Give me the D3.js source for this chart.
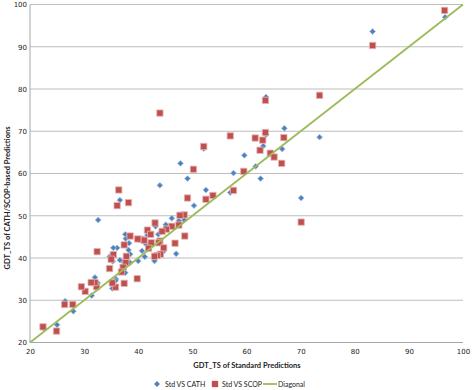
<!DOCTYPE html>
<html>
<head>
<meta charset="utf-8">
<script src="https://cdn.jsdelivr.net/npm/d3@7"></script>
<style>
  body { margin: 0; background: #fff; }
  svg { display: block; }
</style>
</head>
<body>
<svg id="chart" width="472" height="390"></svg>
<script>
// GDT_TS of standard predictions (x) vs CATH/SCOP-based predictions (y)
const cathX = [96.7, 83.3, 73.5, 70.1, 67.0, 66.6, 63.6, 63.6, 63.1, 62.6, 61.7, 59.6, 57.6, 57.0, 52.5,
  52.1, 50.3, 49.1, 47.8, 48.5, 47.5, 46.2, 47.0, 45.1, 44.0, 44.6, 43.7, 43.2, 43.0, 41.7,
  41.4, 41.2, 40.7, 40.0, 38.5, 38.5, 38.3, 38.2, 37.7, 37.6, 37.6, 37.2, 36.6, 36.6, 36.1,
  35.4, 35.9, 35.3, 34.7, 35.8, 35.2, 32.6, 32.5, 32.0, 31.4, 28.0, 26.5, 25.0, 22.6];
const cathY = [97.0, 93.6, 68.6, 54.2, 70.7, 65.8, 78.1, 69.2, 66.5, 58.8, 61.7, 64.3, 60.1, 55.5, 56.1,
  65.9, 52.4, 58.8, 62.4, 49.0, 48.8, 49.4, 41.0, 47.9, 57.2, 41.5, 45.6, 47.5, 39.3, 45.4,
  43.3, 40.3, 41.7, 39.3, 40.9, 38.9, 43.5, 41.9, 44.6, 45.6, 36.5, 39.2, 39.5, 53.7, 42.4,
  42.4, 35.0, 39.2, 40.3, 34.6, 32.8, 49.0, 34.1, 35.4, 31.1, 27.4, 29.8, 24.2, 23.3];

const scopX = [96.6, 83.3, 73.5, 70.1, 63.5, 63.5, 61.6, 63.0, 66.9, 62.5, 64.4, 65.1, 66.5, 59.5, 57.0,
  57.6, 53.8, 52.5, 52.1, 50.2, 49.1, 48.5, 47.7, 47.5, 46.2, 48.6, 46.8, 45.2, 44.4, 43.1,
  44.0, 41.7, 42.3, 44.0, 43.8, 42.4, 44.7, 44.1, 43.5, 43.0, 41.9, 40.6, 41.1, 39.9, 38.5,
  37.4, 37.8, 37.7, 37.2, 36.9, 36.4, 36.1, 38.2, 35.4, 35.0, 34.7, 39.8, 37.4, 35.8, 35.2,
  32.4, 32.3, 32.0, 31.3, 30.2, 29.5, 27.9, 26.4, 24.9, 22.4];
const scopY = [98.6, 90.3, 78.5, 48.5, 77.3, 69.7, 68.4, 67.9, 68.5, 65.5, 64.8, 63.9, 62.4, 60.5, 68.9,
  56.0, 54.8, 53.9, 66.4, 61.0, 54.2, 50.2, 50.1, 47.8, 47.5, 45.2, 43.5, 46.8, 46.3, 48.3,
  74.3, 46.6, 45.6, 44.0, 43.6, 43.6, 42.4, 40.9, 40.6, 40.4, 42.3, 44.4, 44.2, 44.5, 45.2,
  43.1, 40.4, 38.9, 37.8, 36.7, 56.1, 52.4, 53.1, 40.8, 39.7, 37.5, 35.1, 34.0, 33.1, 34.1,
  41.5, 33.2, 34.2, 34.2, 32.1, 33.2, 29.0, 29.0, 22.7, 23.7];

const diagonal = [20, 100];
const axisTicks = [20, 30, 40, 50, 60, 70, 80, 90, 100];
const seriesNames = ["Std VS CATH", "Std VS SCOP", "Diagonal"];

const svg = d3.select("#chart");
const x = d3.scaleLinear().domain([20, 100]).range([30, 463]);
const y = d3.scaleLinear().domain([20, 100]).range([342.5, 4.5]);

const blue = "#4f81bd", red = "#c0504d", green = "#9bbb59";
const diamond = d3.symbol().type(d3.symbolDiamond2).size(22);
const square = d3.symbol().type(d3.symbolSquare).size(40);

// gridlines
svg.append("g")
  .selectAll("line")
  .data(axisTicks.slice(1))
  .enter().append("line")
  .attr("x1", x(20)).attr("x2", x(100))
  .attr("y1", d => y(d)).attr("y2", d => y(d))
  .style("stroke", "#bdbdbd")
  .style("stroke-width", 1);

// axis lines
svg.append("line")
  .attr("x1", x(20)).attr("x2", x(20)).attr("y1", y(100)).attr("y2", y(20))
  .style("stroke", "#a6a6a6");
svg.append("line")
  .attr("x1", x(20)).attr("x2", x(100)).attr("y1", y(20)).attr("y2", y(20))
  .style("stroke", "#a6a6a6");

const yAxis = d3.axisLeft(y).tickValues(axisTicks).tickSize(0).tickPadding(3);
const xAxis = d3.axisBottom(x).tickValues(axisTicks).tickSize(0).tickPadding(7);

svg.append("g").attr("transform", `translate(${x(20)},0)`).call(yAxis)
  .call(g => g.select(".domain").remove())
  .selectAll("text").style("font-family", "DejaVu Sans").style("font-size", "7px").attr("fill", "#222");
svg.append("g").attr("transform", `translate(0,${y(20)})`).call(xAxis)
  .call(g => g.select(".domain").remove())
  .selectAll("text").style("font-family", "DejaVu Sans").style("font-size", "7px").attr("fill", "#222");

// titles
svg.append("text")
  .attr("x", 247).attr("y", 368)
  .attr("text-anchor", "middle")
  .style("font-family", "Lato").style("font-weight", "bold").style("font-size", "7.5px")
  .attr("fill", "#222")
  .text("GDT_TS  of Standard  Predictions");
svg.append("text")
  .attr("transform", "translate(10,198) rotate(-90)")
  .attr("text-anchor", "middle")
  .style("font-family", "Lato").style("font-weight", "bold").style("font-size", "7.5px")
  .attr("fill", "#222")
  .text("GDT_TS  of CATH/SCOP-based  Predictions");

// series
const cathData = cathX.map((v, i) => [v, cathY[i]]);
const scopData = scopX.map((v, i) => [v, scopY[i]]);

svg.append("g").selectAll("path")
  .data(cathData)
  .enter().append("path")
  .attr("transform", d => `translate(${x(d[0])},${y(d[1])})`)
  .attr("d", diamond)
  .style("fill", blue)
  .style("stroke", "#a9c2e2")
  .style("stroke-width", 0.8);

svg.append("g").selectAll("path")
  .data(scopData)
  .enter().append("path")
  .attr("transform", d => `translate(${x(d[0])},${y(d[1])})`)
  .attr("d", square)
  .style("fill", red)
  .style("stroke", "#e3b5b4")
  .style("stroke-width", 0.8);

svg.append("line")
  .attr("x1", x(diagonal[0])).attr("y1", y(diagonal[0]))
  .attr("x2", x(diagonal[1])).attr("y2", y(diagonal[1]))
  .style("stroke", green)
  .style("stroke-width", 1.8);

// legend
const legend = svg.append("g").attr("transform", "translate(0,384)");
const lx = [157, 215, 263];
legend.append("path")
  .attr("transform", `translate(${lx[0]},0)`)
  .attr("d", diamond)
  .style("fill", blue);
legend.append("path")
  .attr("transform", `translate(${lx[1]},0)`)
  .attr("d", square)
  .style("fill", red);
legend.append("line")
  .attr("x1", lx[2]).attr("x2", lx[2] + 14).attr("y1", 0).attr("y2", 0)
  .style("stroke", green).style("stroke-width", 1.8);
legend.selectAll("text")
  .data(seriesNames)
  .enter().append("text")
  .attr("x", (d, i) => [165, 222, 278][i])
  .attr("y", 2.5)
  .style("font-family", "Lato").style("font-size", "7px")
  .attr("fill", "#222")
  .text(d => d);
</script>
</body>
</html>
